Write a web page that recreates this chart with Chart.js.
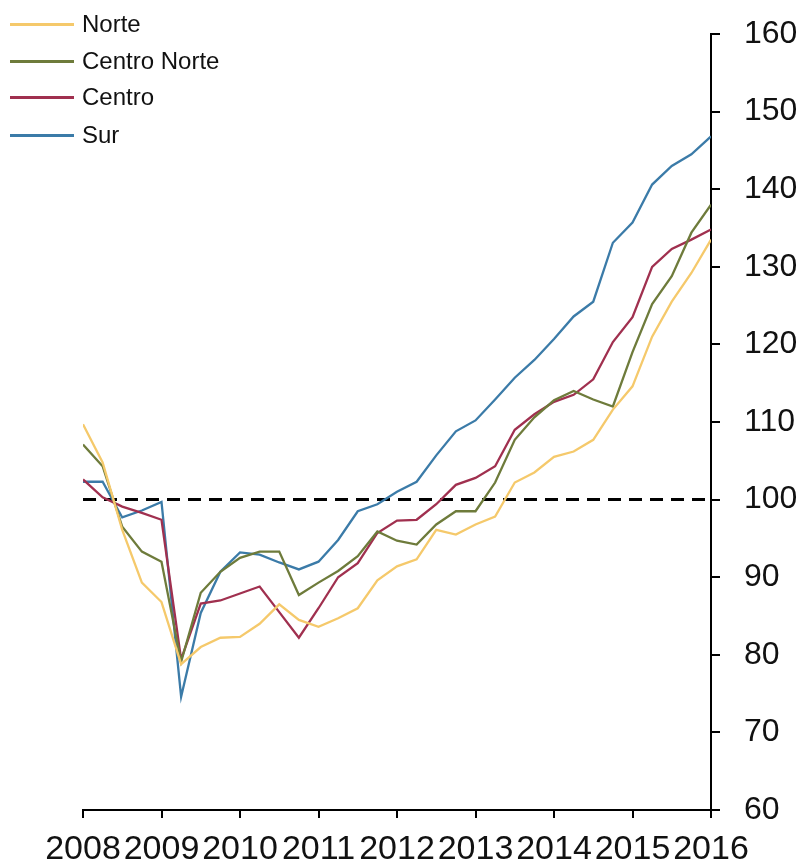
<!DOCTYPE html>
<html>
<head>
<meta charset="utf-8">
<script src="https://cdn.jsdelivr.net/npm/chart.js@4.4.1/dist/chart.umd.min.js"></script>
<style>
  html, body { margin: 0; padding: 0; background: #ffffff; }
  #wrap { position: relative; width: 806px; height: 865px; }
  #legend { position: absolute; left: 0; top: 0; font-family: "Liberation Sans", Arial, sans-serif; font-size: 24px; color: #111; }
  .item { position: absolute; left: 10px; height: 30px; width: 300px; }
  .item .ln { position: absolute; left: 0; top: 14px; width: 64px; height: 3px; }
  .item .tx { position: absolute; left: 72px; top: 0; line-height: 30px; white-space: nowrap; }
</style>
</head>
<body>
<div id="wrap">
  <canvas id="c"></canvas>
  <div id="legend"></div>
</div>
<script>
// Quarterly series, 2008Q1 .. 2016Q1 (index, 2008Q1 = 100 reference line)
const startYear = 2008;
const endYear = 2016;
const seriesNames = ["Norte", "Centro Norte", "Centro", "Sur"];
const seriesColors = ["#F5C96B", "#6E7B3B", "#A0304F", "#3B7BA8"];

const norte = [109.7, 104.8, 96.1, 89.3, 86.8, 78.8, 81.0, 82.2, 82.3, 84.0, 86.5, 84.5, 83.6, 84.7, 86.0, 89.6, 91.4, 92.3, 96.1, 95.5, 96.8, 97.8, 102.2, 103.5, 105.5, 106.2, 107.7, 111.6, 114.6, 121.0, 125.5, 129.2, 133.5];
const centroNorte = [107.1, 104.3, 96.5, 93.3, 92.0, 79.1, 88.0, 90.7, 92.5, 93.3, 93.3, 87.7, 89.3, 90.8, 92.7, 95.9, 94.7, 94.2, 96.8, 98.5, 98.5, 102.2, 107.7, 110.6, 112.8, 114.0, 112.9, 112.0, 119.0, 125.2, 128.8, 134.4, 138.0];
const centro = [102.6, 100.3, 99.1, 98.3, 97.4, 79.4, 86.6, 87.0, 87.9, 88.8, 85.5, 82.2, 86.0, 90.0, 91.8, 95.7, 97.3, 97.4, 99.4, 101.9, 102.8, 104.3, 109.0, 111.0, 112.6, 113.5, 115.5, 120.3, 123.5, 130.0, 132.3, 133.5, 134.8];
const sur = [102.3, 102.3, 97.7, 98.6, 99.7, 74.6, 85.4, 90.7, 93.2, 92.9, 91.9, 91.0, 92.0, 94.8, 98.5, 99.4, 101.0, 102.3, 105.7, 108.8, 110.2, 112.9, 115.7, 118.0, 120.7, 123.6, 125.5, 133.1, 135.7, 140.6, 143.0, 144.5, 146.8];
const referenceLevel = 100;
const yTicks = [60, 70, 80, 90, 100, 110, 120, 130, 140, 150, 160];

const allSeries = [norte, centroNorte, centro, sur];

function toPoints(arr) {
  return arr.map((v, i) => ({ x: startYear + i * 0.25, y: v }));
}

const datasets = allSeries.map((arr, k) => ({
  label: seriesNames[k],
  data: toPoints(arr),
  borderColor: seriesColors[k],
  backgroundColor: seriesColors[k],
  borderWidth: 2.3,
  pointRadius: 0,
  tension: 0,
  fill: false
}));
datasets.push({
  label: "ref",
  data: [{ x: startYear, y: referenceLevel }, { x: endYear, y: referenceLevel }],
  borderColor: "#000",
  borderWidth: 3,
  borderDash: [13, 8],
  pointRadius: 0,
  fill: false
});

// HTML legend
const legendEl = document.getElementById('legend');
const legendTops = [9, 46, 82, 120];
seriesNames.forEach((n, k) => {
  const d = document.createElement('div');
  d.className = 'item';
  d.style.top = legendTops[k] + 'px';
  d.innerHTML = '<div class="ln" style="background:' + seriesColors[k] + '"></div><div class="tx">' + n + '</div>';
  legendEl.appendChild(d);
});

const fontFam = '"Liberation Sans", Arial, sans-serif';

new Chart(document.getElementById('c'), {
  type: 'line',
  data: { datasets },
  options: {
    responsive: true,
    maintainAspectRatio: false,
    animation: false,
    layout: { padding: { left: 83, top: 34, right: 0, bottom: 0 } },
    plugins: { legend: { display: false }, tooltip: { enabled: false } },
    scales: {
      x: {
        type: 'linear',
        min: startYear,
        max: endYear,
        afterFit: (s) => { s.height = 55; s.paddingLeft = 0; s.paddingRight = 0; },
        afterBuildTicks: (s) => {
          const t = [];
          for (let y = startYear; y <= endYear; y++) t.push({ value: y });
          s.ticks = t;
        },
        ticks: {
          stepSize: 1,
          autoSkip: false,
          maxRotation: 0,
          minRotation: 0,
          padding: 11,
          color: '#111',
          font: { family: fontFam, size: 34 },
          callback: (v) => String(v)
        },
        grid: { drawOnChartArea: false, drawTicks: true, tickLength: 8, color: '#000', lineWidth: 2 },
        border: { display: true, color: '#000', width: 2 }
      },
      y: {
        type: 'linear',
        position: 'right',
        min: 60,
        max: 160,
        afterFit: (s) => { s.width = 95; s.paddingTop = 0; s.paddingBottom = 0; },
        afterBuildTicks: (s) => { s.ticks = yTicks.map(v => ({ value: v })); },
        ticks: {
          stepSize: 10,
          padding: 24,
          color: '#111',
          font: { family: fontFam, size: 32 }
        },
        grid: { drawOnChartArea: false, drawTicks: true, tickLength: 9, color: '#000', lineWidth: 2 },
        border: { display: true, color: '#000', width: 2 }
      }
    }
  }
});
</script>
</body>
</html>
